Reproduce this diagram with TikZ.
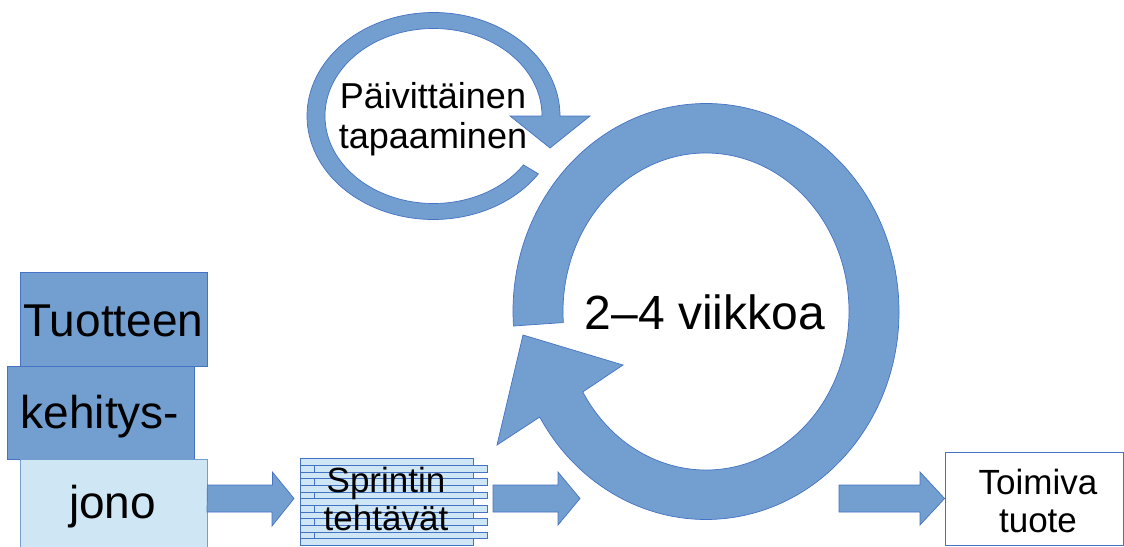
\documentclass[tikz,border=0pt]{standalone}
\usepackage{fontspec}
\setmainfont{Liberation Sans}
\usetikzlibrary{calc}
\definecolor{shapefill}{RGB}{114,159,207}
\definecolor{shapeedge}{RGB}{68,114,196}
\definecolor{lightfill}{RGB}{207,231,245}
\begin{document}
\begin{tikzpicture}[x=1pt,y=-1pt,
  blueshape/.style={fill=shapefill, draw=shapeedge, line width=0.7pt, line join=miter},
  darkbox/.style={blueshape, rectangle, minimum width=187pt, minimum height=94pt, inner sep=0pt},
  lightbox/.style={fill=lightfill, draw=shapefill, line width=0.8pt, rectangle, minimum width=187pt, minimum height=91pt, inner sep=0pt},
  stripe/.style={fill=lightfill, draw=shapeedge, line width=0.7pt},
  bigtext/.style={font=\fontsize{46}{50}\selectfont, inner sep=0pt},
  midtext/.style={font=\fontsize{35}{38}\selectfont, inner sep=0pt, align=center},
  smalltext/.style={font=\fontsize{36}{40}\selectfont, inner sep=0pt, align=center},
  hugetext/.style={font=\fontsize{48}{52}\selectfont, inner sep=0pt}
]
\useasboundingbox (0,0) rectangle (1124,546);

% product backlog: three stacked boxes
\node[darkbox] (tuotteen) at (113.5,319) {};
\node[darkbox, minimum height=93pt] (kehitys) at (100.5,412.5) {};
\node[lightbox] (jono) at (113.5,504.5) {};
\node[bigtext, anchor=base] at (113.5,336) {Tuotteen};
\node[bigtext, anchor=base] at (100,428) {kehitys-};
\node[bigtext, anchor=base] at (112.5,518) {jono};

% sprint backlog: staggered stack of thin task strips
\foreach \i in {0,...,12}{
  \pgfmathsetmacro{\ytop}{458.7+\i*6.66}
  \pgfmathsetmacro{\ybot}{\ytop+6.66}
  \ifodd\i
    \draw[stripe] (300,\ytop) rectangle (314,\ybot);
    \draw[stripe] (314,\ytop) rectangle (487,\ybot);
  \else
    \draw[stripe] (300,\ytop) rectangle (473,\ybot);
  \fi
}
\coordinate (sprintwest) at (300,498.5);
\coordinate (sprinteast) at (487,498.5);
\node[midtext, anchor=base] (sprint) at (386,530) {Sprintin\\tehtävät};

% finished product
\node[draw=shapeedge, fill=white, line width=0.8pt, rectangle, minimum width=178pt, minimum height=93pt, inner sep=0pt] (tuote) at (1034,498.5) {};
\node[midtext, anchor=base] at (1038,532) {Toimiva\\tuote};

% block arrows between the stages
\fill[blueshape] ($(jono.east)+(0,-6)$) ++(0,-13.5) -- ++(65,0) -- ++(0,-13) -- ($(sprintwest)+(-6,0)$) -- ++(-22,27.5) -- ++(0,-14) -- ++(-65,0) -- cycle;
\fill[blueshape] (493,485) -- (558,485) -- (558,472) -- (580,498.5) -- (558,525) -- (558,512) -- (493,512) -- cycle;
\fill[blueshape] (839,485) -- (920,485) -- (920,472) -- (tuote.west) -- (920,525) -- (920,512) -- (839,512) -- cycle;

% sprint cycle: large circular arrow
\coordinate (bc) at (706,311.5);
\fill[blueshape] ($(bc)+(176:193 and 208)$)
  arc[start angle=176, end angle=509.5, x radius=193, y radius=208]
  -- (497,445) -- (523,335) -- (623,365)
  -- ($(bc)+(509.5:143 and 158.5)$)
  arc[start angle=509.5, end angle=176, x radius=143, y radius=158.5]
  -- cycle;
\node[hugetext, anchor=base] (cycle) at (705,329) {2–4 viikkoa};

% daily meeting: small circular arrow
\coordinate (sc) at (433.5,116);
\fill[blueshape] ($(sc)+(34:126.5 and 103.5)$)
  arc[start angle=34, end angle=360, x radius=126.5, y radius=103.5]
  -- (590,116) -- (550,148) -- (510,116)
  -- ($(sc)+(360:108.5 and 87.5)$)
  arc[start angle=360, end angle=34, x radius=108.5, y radius=87.5]
  -- cycle;
\node[smalltext, anchor=base] (daily) at (433,148) {Päivittäinen\\tapaaminen};
\end{tikzpicture}
\end{document}
